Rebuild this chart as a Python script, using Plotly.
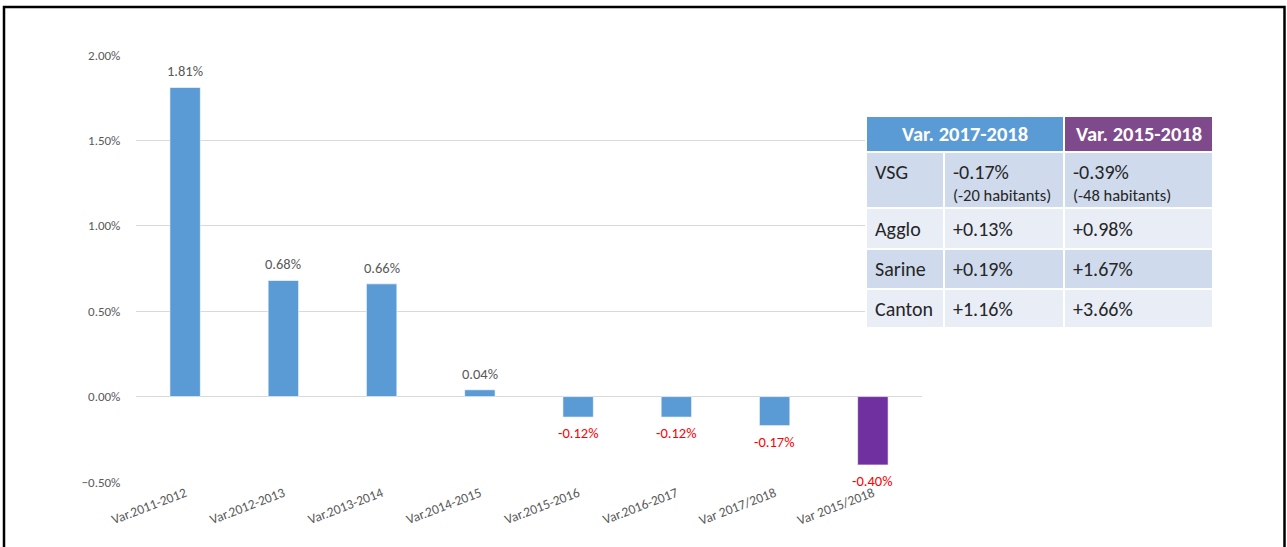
import plotly.graph_objects as go

# ---------------- data ----------------
categories = ["Var.2011-2012", "Var.2012-2013", "Var.2013-2014", "Var.2014-2015",
              "Var.2015-2016", "Var.2016-2017", "Var 2017/2018", "Var 2015/2018"]
values_pct = [1.81, 0.68, 0.66, 0.04, -0.12, -0.12, -0.17, -0.40]
bar_colors = ["#5B9BD5"] * 7 + ["#7030A0"]

y_ticks = [-0.005, 0.0, 0.005, 0.01, 0.015, 0.02]

table_headers = ["Var. 2017-2018", "Var. 2015-2018"]
table_regions = ["VSG", "Agglo", "Sarine", "Canton"]
var_2017_2018 = ["-0.17%", "+0.13%", "+0.19%", "+1.16%"]
var_2015_2018 = ["-0.39%", "+0.98%", "+1.67%", "+3.66%"]
habitants_2017_2018 = "(-20 habitants)"
habitants_2015_2018 = "(-48 habitants)"

# ---------------- layout geometry (pixels, reference image coords) ----------------
W, H = 1287, 547
PL, PR, PT, PB = 136, 922, 55, 482  # plot area


def px(x):
    return (x - PL) / (PR - PL)


def py(y):
    return (PB - y) / (PB - PT)


FONT = "Carlito, Lato"
GRAY = "#595959"

values = [v / 100 for v in values_pct]

fig = go.Figure()
fig.add_trace(go.Bar(
    x=categories, y=values,
    marker=dict(color=bar_colors, line=dict(color="rgba(255,255,255,0.6)", width=1)),
    hoverinfo="x+y",
))

annotations = []
for c, v, vp in zip(categories, values, values_pct):
    pos = v >= 0
    annotations.append(dict(
        x=c, y=v, xref="x", yref="y",
        text=f"{vp:.2f}%", showarrow=False,
        yshift=16 if pos else -16, yanchor="middle", xanchor="center",
        font=dict(family=FONT, size=14.5, color=GRAY if pos else "#FF0000"),
    ))

shapes = []
# outer black frame
shapes.append(dict(type="rect", xref="paper", yref="paper",
                   x0=px(4), x1=px(1284.5), y0=py(570), y1=py(7),
                   line=dict(color="black", width=2.5), fillcolor="rgba(0,0,0,0)",
                   layer="above"))

# table geometry
tx = [866, 944, 1064, 1213]
ty_head = (116, 152)
row_bounds = [(152, 208), (208, 249), (249, 289), (289, 328)]
row_fills = ["#CFDAEC", "#E8EDF6", "#CFDAEC", "#E8EDF6"]


def rect(x0, x1, y0, y1, fill):
    shapes.append(dict(type="rect", xref="paper", yref="paper",
                       x0=px(x0), x1=px(x1), y0=py(y1), y1=py(y0),
                       line=dict(color="white", width=2), fillcolor=fill,
                       layer="above"))


# header cells
rect(tx[0], tx[2], ty_head[0], ty_head[1], "#5B9BD5")
rect(tx[2], tx[3], ty_head[0], ty_head[1], "#7F4A8C")
for (xa, xb), t in zip([(tx[0], tx[2]), (tx[2], tx[3])], table_headers):
    annotations.append(dict(x=px((xa + xb) / 2), y=py(sum(ty_head) / 2), xref="paper", yref="paper",
                            text="<b>" + t + "</b>", showarrow=False,
                            xanchor="center", yanchor="middle",
                            font=dict(family=FONT, size=20.5, color="white")))

CELL_FONT = dict(family=FONT, size=20, color="#262626")
for i, (region, a, b) in enumerate(zip(table_regions, var_2017_2018, var_2015_2018)):
    y0, y1 = row_bounds[i]
    for j in range(3):
        rect(tx[j], tx[j + 1], y0, y1, row_fills[i])
    yc = y0 + 20 if i == 0 else (y0 + y1) / 2
    for j, t in enumerate([region, a, b]):
        annotations.append(dict(x=px(tx[j] + 7), y=py(yc), xref="paper", yref="paper",
                                text=t, showarrow=False, xanchor="left", yanchor="middle",
                                font=CELL_FONT))
    if i == 0:
        for j, t in zip([1, 2], [habitants_2017_2018, habitants_2015_2018]):
            annotations.append(dict(x=px(tx[j] + 7), y=py(y0 + 43), xref="paper", yref="paper",
                                    text=t, showarrow=False, xanchor="left", yanchor="middle",
                                    font=dict(family=FONT, size=16.5, color="#262626")))

fig.update_layout(
    width=W, height=H,
    margin=dict(l=PL, r=W - PR, t=PT, b=H - PB),
    paper_bgcolor="white", plot_bgcolor="white",
    bargap=0.69,
    showlegend=False,
    shapes=shapes,
    annotations=annotations,
    xaxis=dict(
        tickangle=-21, tickfont=dict(family=FONT, size=13.5, color=GRAY),
        showgrid=False, showline=False, ticks="", automargin=False,
    ),
    yaxis=dict(
        range=[-0.005, 0.02], tickvals=y_ticks, tickformat=".2%",
        tickfont=dict(family=FONT, size=13, color=GRAY),
        showgrid=True, gridcolor="#D9D9D9", gridwidth=1,
        zeroline=True, zerolinecolor="#D9D9D9", zerolinewidth=1,
        showline=False, ticks="outside", ticklen=12, tickcolor="rgba(0,0,0,0)",
        automargin=False,
    ),
)

fig.write_html("out.html", config={"displayModeBar": False},
               post_script="document.body.style.margin='0';document.body.style.overflow='hidden';")
